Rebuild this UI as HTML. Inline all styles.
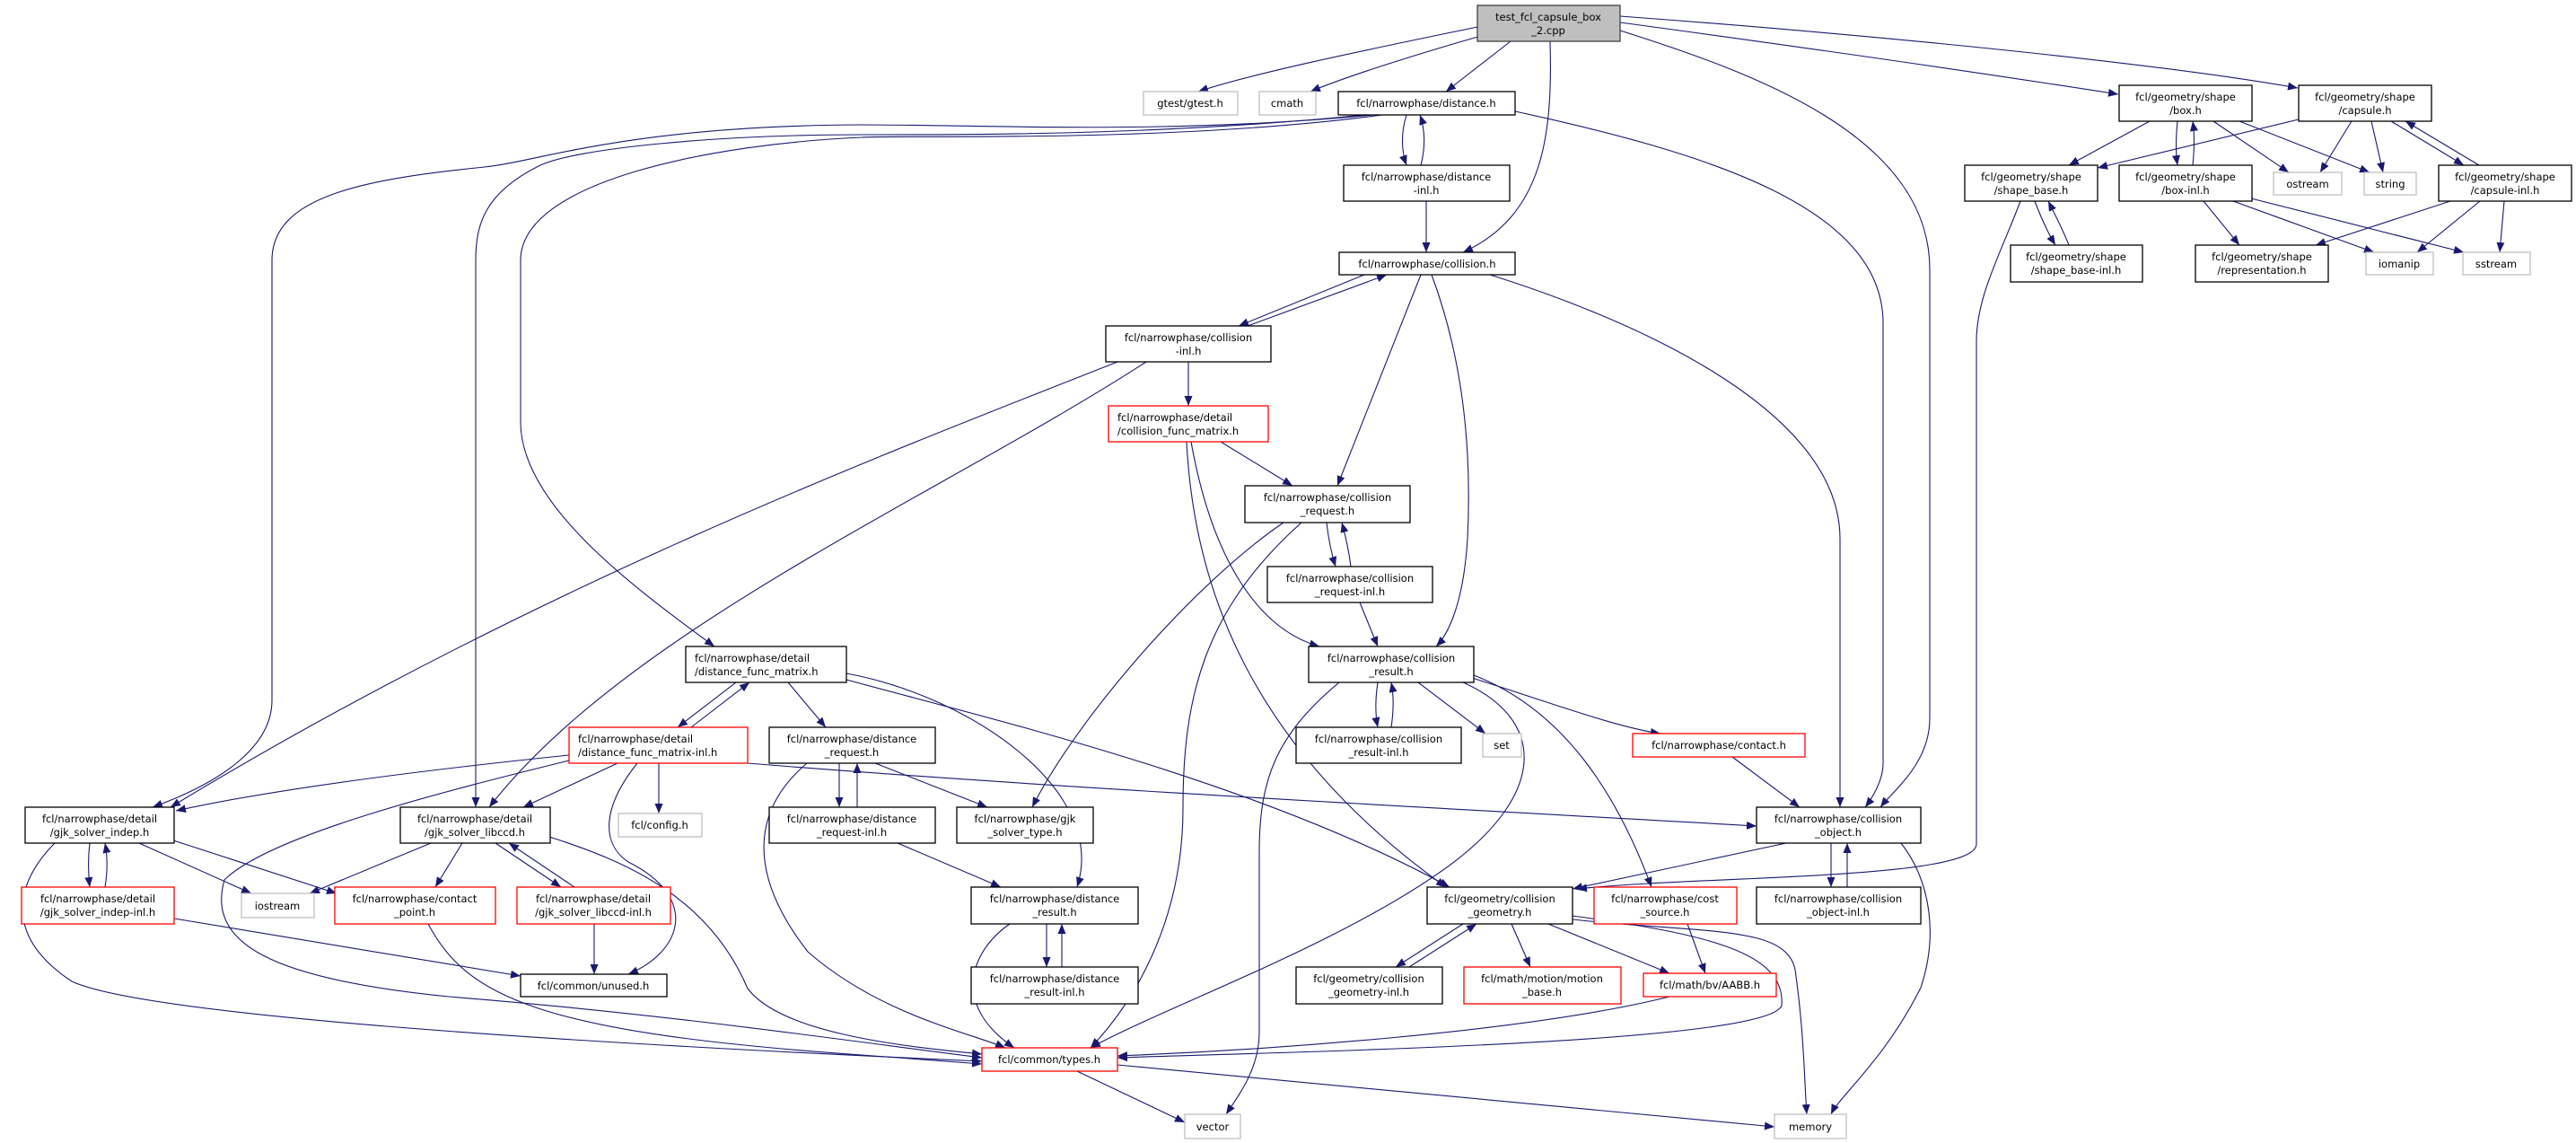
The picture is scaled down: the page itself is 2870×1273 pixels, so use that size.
<!DOCTYPE html>
<html><head><meta charset="utf-8"><style>
html,body{margin:0;padding:0;background:#fff;}
svg{display:block;}
text{font-family:"DejaVu Sans","Liberation Sans",sans-serif;font-size:11.5px;fill:#000;}
.n{fill:#fff;stroke:#000;stroke-width:1.3;}
.r{fill:#fff;stroke:#ff0000;stroke-width:1.3;}
.g{fill:#fff;stroke:#bfbfbf;stroke-width:1.3;}
.t{fill:#bfbfbf;stroke:#404040;stroke-width:1.3;}
path{fill:none;stroke:#191970;stroke-width:1.1;marker-end:url(#a);}
</style></head><body>
<svg width="2870" height="1273" viewBox="0 0 2870 1273" xmlns="http://www.w3.org/2000/svg">
<defs><marker id="a" markerUnits="userSpaceOnUse" markerWidth="12" markerHeight="10" refX="11" refY="4.5" orient="auto"><polygon points="0,0 11,4.5 0,9" fill="#191970"/></marker></defs>
<g>
<path d="M1646,30 C1550,50 1400,80 1335,102"/>
<path d="M1650,40 C1580,60 1500,85 1460,102"/>
<path d="M1683,46 L1611,102"/>
<path d="M1727,46 C1730,150 1720,240 1630,281"/>
<path d="M1805,25 C1990,50 2200,80 2360,105"/>
<path d="M1805,18 C2100,40 2400,70 2560,98"/>
<path d="M1805,34 C1950,80 2150,150 2150,300 L2150,800 C2150,850 2110,880 2095,899"/>
<path d="M1567,128 C1560,150 1562,170 1567,184"/>
<path d="M1583,184 C1588,165 1588,145 1582,128"/>
<path d="M1589,224 L1589,281"/>
<path d="M1530,128 C1300,150 1100,139 960,139 C700,140 600,180 540,186 C400,200 303,220 303,290 L303,780 C303,830 250,870 170,899"/>
<path d="M1520,128 C1300,150 1100,150 960,150 C800,150 640,165 600,185 C540,215 530,250 530,290 L530,899"/>
<path d="M1540,128 C1300,160 1000,150 960,153 C800,160 580,200 580,290 L580,470 C580,560 700,650 796,720"/>
<path d="M1688,124 C1900,170 2098,230 2098,360 L2098,850 C2098,870 2085,890 2078,899"/>
<path d="M1520,306 L1380,363"/>
<path d="M1390,363 L1545,306"/>
<path d="M1583,306 L1490,541"/>
<path d="M1595,306 C1630,400 1640,500 1635,600 C1630,680 1610,710 1600,720"/>
<path d="M1660,306 C1800,350 2050,450 2050,600 L2050,899"/>
<path d="M1324,403 L1324,452"/>
<path d="M1245,403 C1000,500 600,650 190,899"/>
<path d="M1277,403 C1050,550 700,700 545,899"/>
<path d="M1360,492 L1440,541"/>
<path d="M1327,492 C1350,620 1400,700 1470,720"/>
<path d="M1322,492 C1330,650 1390,830 1611,988"/>
<path d="M1478,582 C1480,600 1483,615 1488,631"/>
<path d="M1505,631 C1503,615 1500,600 1495,582"/>
<path d="M1430,582 C1330,650 1200,800 1150,899"/>
<path d="M1450,582 C1340,680 1318,780 1318,900 C1318,1030 1260,1120 1215,1167"/>
<path d="M1515,671 L1535,720"/>
<path d="M1535,760 C1532,780 1532,795 1535,810"/>
<path d="M1550,810 C1553,790 1553,775 1550,760"/>
<path d="M1580,760 L1655,817"/>
<path d="M1640,755 C1720,780 1800,810 1850,817"/>
<path d="M1642,752 C1740,790 1800,880 1840,988"/>
<path d="M1492,760 C1420,820 1403,870 1403,950 L1403,1150 C1403,1190 1380,1220 1366,1241"/>
<path d="M1630,760 C1720,800 1725,880 1620,960 C1500,1050 1300,1120 1215,1167"/>
<path d="M1930,843 L2005,899"/>
<path d="M820,760 L755,810"/>
<path d="M770,810 L835,760"/>
<path d="M878,760 L920,810"/>
<path d="M943,750 C1080,775 1235,880 1200,988"/>
<path d="M943,757 C1100,800 1400,870 1615,988"/>
<path d="M634,841 C450,860 300,880 196,903"/>
<path d="M688,850 L583,899"/>
<path d="M734,850 L734,906"/>
<path d="M710,850 C670,900 670,940 700,960 C780,1000 760,1060 700,1085"/>
<path d="M634,847 C500,880 300,930 250,980 C230,1050 300,1090 500,1110 C750,1130 950,1160 1094,1178"/>
<path d="M833,850 C1200,880 1700,905 1957,920"/>
<path d="M61,939 C20,980 0,1040 80,1093 C160,1130 600,1160 1094,1182"/>
<path d="M612,932 C700,960 790,1000 833,1101 C870,1150 1000,1165 1094,1174"/>
<path d="M477,1029 C520,1110 600,1150 960,1175 L1094,1185"/>
<path d="M194,1023 L580,1087"/>
<path d="M662,1029 L662,1085"/>
<path d="M935,850 L935,899"/>
<path d="M955,899 L955,850"/>
<path d="M975,850 L1100,899"/>
<path d="M899,850 C840,900 830,970 900,1060 C980,1130 1080,1150 1120,1167"/>
<path d="M1000,939 L1115,988"/>
<path d="M1166,1029 L1166,1077"/>
<path d="M1183,1077 L1183,1029"/>
<path d="M1125,1029 C1080,1060 1060,1120 1130,1167"/>
<path d="M100,939 C98,955 98,970 100,988"/>
<path d="M117,988 C120,970 120,955 117,939"/>
<path d="M155,939 L280,995"/>
<path d="M190,935 L375,995"/>
<path d="M480,939 L345,995"/>
<path d="M515,939 L485,988"/>
<path d="M552,939 L625,988"/>
<path d="M640,988 L567,939"/>
<path d="M1990,939 L1752,990"/>
<path d="M2040,939 L2040,988"/>
<path d="M2058,988 L2058,939"/>
<path d="M2118,939 C2150,980 2160,1040 2140,1100 C2100,1180 2050,1220 2040,1241"/>
<path d="M1630,1029 L1555,1077"/>
<path d="M1570,1077 L1645,1029"/>
<path d="M1684,1029 L1705,1077"/>
<path d="M1725,1029 L1860,1084"/>
<path d="M1752,1024 C1900,1040 1990,1030 2000,1080 C2010,1150 2010,1200 2013,1241"/>
<path d="M1752,1020 C1900,1040 1990,1060 1985,1120 C1970,1160 1500,1170 1245,1178"/>
<path d="M1880,1029 L1900,1084"/>
<path d="M1860,1110 C1700,1150 1400,1170 1245,1176"/>
<path d="M2251,224 C2230,280 2202,330 2202,380 L2202,940 C2202,980 1900,975 1757,990"/>
<path d="M2267,224 C2275,245 2282,260 2290,273"/>
<path d="M2305,273 C2298,255 2290,240 2282,224"/>
<path d="M1200,1193 L1320,1250"/>
<path d="M1245,1186 L1977,1255"/>
<path d="M2395,135 L2305,184"/>
<path d="M2426,135 C2424,155 2424,170 2426,184"/>
<path d="M2443,184 C2445,165 2445,150 2443,135"/>
<path d="M2466,135 L2550,192"/>
<path d="M2495,135 L2640,192"/>
<path d="M2561,133 L2337,187"/>
<path d="M2620,135 L2585,192"/>
<path d="M2642,135 L2655,192"/>
<path d="M2664,135 L2745,184"/>
<path d="M2762,184 L2680,135"/>
<path d="M2455,224 L2495,273"/>
<path d="M2488,224 L2645,281"/>
<path d="M2508,221 L2745,281"/>
<path d="M2730,224 L2580,273"/>
<path d="M2763,224 L2693,281"/>
<path d="M2790,224 L2785,281"/>
</g>
<g>
<rect class="t" x="1646" y="6" width="159" height="40"/><text x="1725" y="23" text-anchor="middle">test_fcl_capsule_box</text><text x="1725" y="38" text-anchor="middle">_2.cpp</text>
<rect class="g" x="1274" y="102" width="105" height="26"/><text x="1326" y="119" text-anchor="middle">gtest/gtest.h</text>
<rect class="g" x="1403" y="102" width="63" height="26"/><text x="1434" y="119" text-anchor="middle">cmath</text>
<rect class="n" x="1491" y="102" width="197" height="26"/><text x="1589" y="119" text-anchor="middle">fcl/narrowphase/distance.h</text>
<rect class="n" x="1497" y="184" width="185" height="40"/><text x="1589" y="201" text-anchor="middle">fcl/narrowphase/distance</text><text x="1589" y="216" text-anchor="middle">-inl.h</text>
<rect class="n" x="1492" y="281" width="196" height="25"/><text x="1590" y="298" text-anchor="middle">fcl/narrowphase/collision.h</text>
<rect class="n" x="1232" y="363" width="184" height="40"/><text x="1324" y="380" text-anchor="middle">fcl/narrowphase/collision</text><text x="1324" y="395" text-anchor="middle">-inl.h</text>
<rect class="r" x="1235" y="452" width="178" height="40"/><text x="1245" y="469">fcl/narrowphase/detail</text><text x="1245" y="484">/collision_func_matrix.h</text>
<rect class="n" x="1387" y="541" width="184" height="41"/><text x="1479" y="558" text-anchor="middle">fcl/narrowphase/collision</text><text x="1479" y="573" text-anchor="middle">_request.h</text>
<rect class="n" x="1412" y="631" width="184" height="40"/><text x="1504" y="648" text-anchor="middle">fcl/narrowphase/collision</text><text x="1504" y="663" text-anchor="middle">_request-inl.h</text>
<rect class="n" x="1458" y="720" width="184" height="40"/><text x="1550" y="737" text-anchor="middle">fcl/narrowphase/collision</text><text x="1550" y="752" text-anchor="middle">_result.h</text>
<rect class="n" x="1444" y="810" width="184" height="40"/><text x="1536" y="827" text-anchor="middle">fcl/narrowphase/collision</text><text x="1536" y="842" text-anchor="middle">_result-inl.h</text>
<rect class="g" x="1652" y="817" width="43" height="26"/><text x="1673" y="834" text-anchor="middle">set</text>
<rect class="r" x="1819" y="817" width="192" height="26"/><text x="1915" y="834" text-anchor="middle">fcl/narrowphase/contact.h</text>
<rect class="n" x="764" y="720" width="179" height="40"/><text x="774" y="737">fcl/narrowphase/detail</text><text x="774" y="752">/distance_func_matrix.h</text>
<rect class="r" x="634" y="810" width="199" height="40"/><text x="644" y="827">fcl/narrowphase/detail</text><text x="644" y="842">/distance_func_matrix-inl.h</text>
<rect class="n" x="857" y="810" width="185" height="40"/><text x="949" y="827" text-anchor="middle">fcl/narrowphase/distance</text><text x="949" y="842" text-anchor="middle">_request.h</text>
<rect class="n" x="857" y="899" width="185" height="40"/><text x="949" y="916" text-anchor="middle">fcl/narrowphase/distance</text><text x="949" y="931" text-anchor="middle">_request-inl.h</text>
<rect class="n" x="1066" y="899" width="152" height="40"/><text x="1142" y="916" text-anchor="middle">fcl/narrowphase/gjk</text><text x="1142" y="931" text-anchor="middle">_solver_type.h</text>
<rect class="n" x="1082" y="988" width="186" height="41"/><text x="1175" y="1005" text-anchor="middle">fcl/narrowphase/distance</text><text x="1175" y="1020" text-anchor="middle">_result.h</text>
<rect class="n" x="1082" y="1077" width="186" height="41"/><text x="1175" y="1094" text-anchor="middle">fcl/narrowphase/distance</text><text x="1175" y="1109" text-anchor="middle">_result-inl.h</text>
<rect class="n" x="28" y="899" width="166" height="40"/><text x="111" y="916" text-anchor="middle">fcl/narrowphase/detail</text><text x="111" y="931" text-anchor="middle">/gjk_solver_indep.h</text>
<rect class="n" x="446" y="899" width="167" height="40"/><text x="529" y="916" text-anchor="middle">fcl/narrowphase/detail</text><text x="529" y="931" text-anchor="middle">/gjk_solver_libccd.h</text>
<rect class="g" x="689" y="906" width="93" height="26"/><text x="735" y="923" text-anchor="middle">fcl/config.h</text>
<rect class="r" x="24" y="988" width="170" height="41"/><text x="109" y="1005" text-anchor="middle">fcl/narrowphase/detail</text><text x="109" y="1020" text-anchor="middle">/gjk_solver_indep-inl.h</text>
<rect class="g" x="269" y="995" width="81" height="27"/><text x="309" y="1013" text-anchor="middle">iostream</text>
<rect class="r" x="373" y="988" width="179" height="41"/><text x="462" y="1005" text-anchor="middle">fcl/narrowphase/contact</text><text x="462" y="1020" text-anchor="middle">_point.h</text>
<rect class="r" x="576" y="988" width="171" height="41"/><text x="661" y="1005" text-anchor="middle">fcl/narrowphase/detail</text><text x="661" y="1020" text-anchor="middle">/gjk_solver_libccd-inl.h</text>
<rect class="n" x="580" y="1085" width="163" height="25"/><text x="661" y="1102" text-anchor="middle">fcl/common/unused.h</text>
<rect class="n" x="1957" y="899" width="183" height="40"/><text x="2048" y="916" text-anchor="middle">fcl/narrowphase/collision</text><text x="2048" y="931" text-anchor="middle">_object.h</text>
<rect class="n" x="1957" y="988" width="183" height="41"/><text x="2048" y="1005" text-anchor="middle">fcl/narrowphase/collision</text><text x="2048" y="1020" text-anchor="middle">_object-inl.h</text>
<rect class="n" x="1590" y="988" width="162" height="41"/><text x="1671" y="1005" text-anchor="middle">fcl/geometry/collision</text><text x="1671" y="1020" text-anchor="middle">_geometry.h</text>
<rect class="r" x="1776" y="988" width="159" height="41"/><text x="1855" y="1005" text-anchor="middle">fcl/narrowphase/cost</text><text x="1855" y="1020" text-anchor="middle">_source.h</text>
<rect class="n" x="1444" y="1077" width="163" height="41"/><text x="1525" y="1094" text-anchor="middle">fcl/geometry/collision</text><text x="1525" y="1109" text-anchor="middle">_geometry-inl.h</text>
<rect class="r" x="1631" y="1077" width="175" height="41"/><text x="1718" y="1094" text-anchor="middle">fcl/math/motion/motion</text><text x="1718" y="1109" text-anchor="middle">_base.h</text>
<rect class="r" x="1831" y="1084" width="148" height="26"/><text x="1905" y="1101" text-anchor="middle">fcl/math/bv/AABB.h</text>
<rect class="r" x="1094" y="1167" width="151" height="26"/><text x="1169" y="1184" text-anchor="middle">fcl/common/types.h</text>
<rect class="g" x="1320" y="1241" width="62" height="27"/><text x="1351" y="1259" text-anchor="middle">vector</text>
<rect class="g" x="1977" y="1241" width="80" height="27"/><text x="2017" y="1259" text-anchor="middle">memory</text>
<rect class="n" x="2361" y="95" width="148" height="40"/><text x="2435" y="112" text-anchor="middle">fcl/geometry/shape</text><text x="2435" y="127" text-anchor="middle">/box.h</text>
<rect class="n" x="2561" y="95" width="148" height="40"/><text x="2635" y="112" text-anchor="middle">fcl/geometry/shape</text><text x="2635" y="127" text-anchor="middle">/capsule.h</text>
<rect class="n" x="2189" y="184" width="148" height="40"/><text x="2263" y="201" text-anchor="middle">fcl/geometry/shape</text><text x="2263" y="216" text-anchor="middle">/shape_base.h</text>
<rect class="n" x="2361" y="184" width="148" height="40"/><text x="2435" y="201" text-anchor="middle">fcl/geometry/shape</text><text x="2435" y="216" text-anchor="middle">/box-inl.h</text>
<rect class="g" x="2533" y="192" width="76" height="25"/><text x="2571" y="209" text-anchor="middle">ostream</text>
<rect class="g" x="2634" y="192" width="58" height="25"/><text x="2663" y="209" text-anchor="middle">string</text>
<rect class="n" x="2717" y="184" width="148" height="40"/><text x="2791" y="201" text-anchor="middle">fcl/geometry/shape</text><text x="2791" y="216" text-anchor="middle">/capsule-inl.h</text>
<rect class="n" x="2240" y="273" width="147" height="41"/><text x="2313" y="290" text-anchor="middle">fcl/geometry/shape</text><text x="2313" y="305" text-anchor="middle">/shape_base-inl.h</text>
<rect class="n" x="2446" y="273" width="148" height="41"/><text x="2520" y="290" text-anchor="middle">fcl/geometry/shape</text><text x="2520" y="305" text-anchor="middle">/representation.h</text>
<rect class="g" x="2636" y="281" width="75" height="25"/><text x="2673" y="298" text-anchor="middle">iomanip</text>
<rect class="g" x="2744" y="281" width="75" height="25"/><text x="2781" y="298" text-anchor="middle">sstream</text>
</g>
</svg>
</body></html>
